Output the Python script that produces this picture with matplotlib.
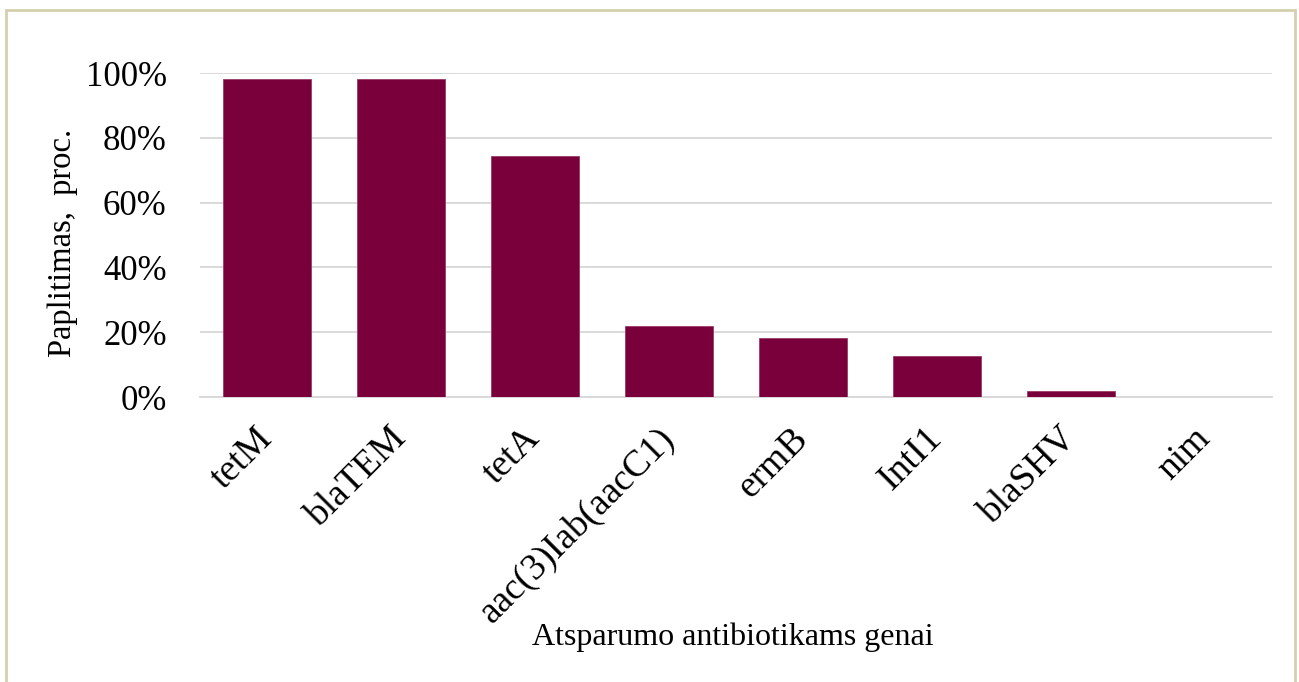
import matplotlib.pyplot as plt
from matplotlib.patches import Rectangle
from matplotlib.ticker import PercentFormatter

genes = ["tetM", "blaTEM", "tetA", "aac(3)Iab(aacC1)", "ermB", "IntI1", "blaSHV", "nim"]
prevalence = [98.2, 98.2, 74.5, 21.8, 18.2, 12.7, 1.8, 0.0]
y_ticks = [0, 20, 40, 60, 80, 100]

plt.rcParams["font.family"] = ["Liberation Serif", "DejaVu Serif"]

W, H = 1299, 682
fig = plt.figure(figsize=(W / 100, H / 100), dpi=100)
fig.patch.set_facecolor("white")

# outer frame of the chart
fig.patches.append(Rectangle((6 / W, -0.02), (1295 - 6) / W, 1 - 10 / H + 0.02,
                             transform=fig.transFigure, fill=False,
                             edgecolor="#D4CFAE", linewidth=2))

ax = fig.add_axes([200 / W, 1 - 397 / H, (1272 - 200) / W, (397 - 73) / H])
x = range(len(genes))
ax.bar(x, prevalence, width=0.66, color="#7A003C", edgecolor="#9A3A66",
       linewidth=0.6, zorder=3)

ax.set_xlim(-0.5, len(genes) - 0.5)
ax.set_ylim(0, 100)
ax.set_yticks(y_ticks)
ax.yaxis.set_major_formatter(PercentFormatter(decimals=0))
ax.grid(axis="y", color="#D9D9D9", linewidth=1.4, zorder=0)
for s in ["top", "right", "left"]:
    ax.spines[s].set_visible(False)
ax.spines["bottom"].set_color("#D9D9D9")
ax.spines["bottom"].set_linewidth(1.4)
ax.tick_params(axis="y", length=0, pad=24, labelsize=25)
ax.tick_params(axis="x", length=0, pad=26, labelsize=27)

ax.set_xticks(list(x))
ax.set_xticklabels(genes, rotation=45, ha="right", va="center",
                   rotation_mode="anchor")

fig.text(63 / W, 1 - 243 / H, "Paplitimas,  proc.", rotation=90,
         ha="center", va="center", fontsize=23.5)
fig.text(733 / W, 1 - 637 / H, "Atsparumo antibiotikams genai",
         ha="center", va="center", fontsize=23)

fig.savefig("out.png", dpi=100)
